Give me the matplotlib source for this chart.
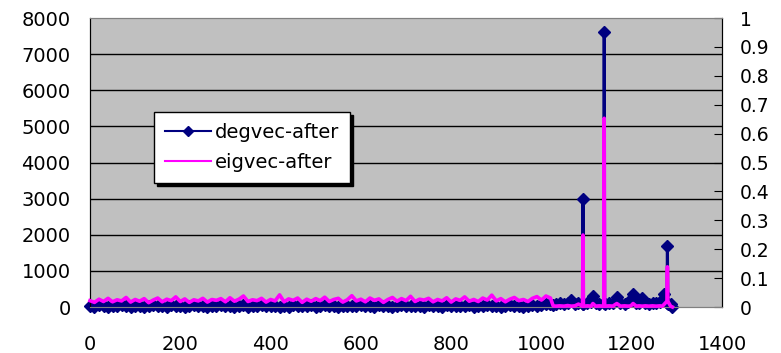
import matplotlib
matplotlib.use("Agg")
import matplotlib.pyplot as plt
import numpy as np

# node index 0..1020 (every 10th node), then the tail read point by point
head_x = list(range(0, 1021, 10))
head_deg = [30, 10, 45, 20, 5, 35, 15, 50, 25, 10,
            40, 20, 5, 30, 55, 15, 25, 10, 45, 20,
            35, 5, 25, 50, 15, 30, 10, 40, 20, 60,
            15, 35, 5, 25, 45, 10, 30, 20, 50, 15,
            25, 40, 10, 35, 5, 55, 20, 30, 15, 45,
            10, 30, 50, 20, 35, 5, 25, 40, 15, 30,
            45, 15, 25, 10, 60, 20, 35, 5, 30, 50,
            20, 40, 15, 30, 10, 45, 25, 35, 5, 55,
            30, 15, 40, 20, 50, 10, 35, 25, 45, 15,
            25, 5, 30, 55, 20, 40, 10, 35, 60, 25,
            45, 80, 70]
head_eig = [0.022, 0.016, 0.027, 0.019, 0.030, 0.018, 0.025, 0.021, 0.033, 0.017,
            0.026, 0.020, 0.029, 0.015, 0.024, 0.031, 0.018, 0.027, 0.022, 0.035,
            0.019, 0.028, 0.016, 0.025, 0.021, 0.030, 0.017, 0.026, 0.023, 0.029,
            0.018, 0.032, 0.020, 0.027, 0.038, 0.019, 0.025, 0.022, 0.030, 0.017,
            0.026, 0.021, 0.042, 0.018, 0.028, 0.023, 0.031, 0.016, 0.027, 0.020,
            0.029, 0.022, 0.034, 0.019, 0.026, 0.030, 0.017, 0.025, 0.039, 0.021,
            0.027, 0.018, 0.031, 0.023, 0.028, 0.016, 0.026, 0.033, 0.020, 0.029,
            0.022, 0.037, 0.019, 0.027, 0.024, 0.030, 0.018, 0.026, 0.021, 0.032,
            0.017, 0.028, 0.023, 0.035, 0.020, 0.026, 0.019, 0.031, 0.024, 0.041,
            0.021, 0.029, 0.018, 0.027, 0.033, 0.022, 0.026, 0.019, 0.030, 0.036,
            0.024, 0.038, 0.031]

tail_x = [1026, 1032, 1040, 1050, 1058, 1066, 1074, 1082, 1091, 1092,
          1093, 1102, 1110, 1114, 1120, 1128, 1138, 1139, 1140, 1150,
          1158, 1167, 1175, 1184, 1192, 1198, 1203, 1210, 1216, 1223,
          1230, 1238, 1246, 1254, 1262, 1268, 1272, 1278, 1279, 1280,
          1286, 1290]
tail_deg = [60, 90, 100, 80, 110, 190, 90, 100, 80, 3000,
            90, 110, 130, 300, 100, 90, 110, 7600, 90, 100,
            120, 280, 100, 90, 130, 170, 360, 110, 120, 250,
            100, 90, 110, 100, 130, 200, 360, 120, 1680, 90,
            70, 0]
tail_eig = [0.004, 0.003, 0.004, 0.003, 0.005, 0.003, 0.004, 0.010, 0.003, 0.249,
            0.003, 0.004, 0.003, 0.012, 0.003, 0.004, 0.003, 0.653, 0.003, 0.004,
            0.003, 0.012, 0.003, 0.004, 0.003, 0.004, 0.012, 0.003, 0.004, 0.003,
            0.004, 0.003, 0.004, 0.003, 0.004, 0.003, 0.010, 0.020, 0.139, 0.020,
            0.003, 0.000]

x_ticks = [0, 200, 400, 600, 800, 1000, 1200, 1400]
left_ticks = [0, 1000, 2000, 3000, 4000, 5000, 6000, 7000, 8000]
right_ticks = [0, 0.1, 0.2, 0.3, 0.4, 0.5, 0.6, 0.7, 0.8, 0.9, 1]
right_labels = ["0", "0.1", "0.2", "0.3", "0.4", "0.5", "0.6", "0.7", "0.8", "0.9", "1"]

x = np.concatenate([head_x, tail_x])
deg = np.concatenate([head_deg, tail_deg])
eig = np.concatenate([head_eig, tail_eig])

fig = plt.figure(figsize=(7.81, 3.53), dpi=100)
ax = fig.add_axes([0.1152, 0.1303, 0.8093, 0.8187])
ax.set_facecolor("#C0C0C0")
ax2 = ax.twinx()

ax.set_xlim(0, 1400)
ax.set_ylim(0, 8000)
ax2.set_ylim(0, 1)

for v in left_ticks[1:-1]:
    ax.axhline(v, color="black", lw=1, zorder=1)

l1, = ax.plot(x, deg, color="#000080", lw=2.2, marker="D", ms=6,
              clip_on=False, zorder=3, label="degvec-after")
l2, = ax2.plot(x, eig, color="#FF00FF", lw=2.6, clip_on=False,
               zorder=3, label="eigvec-after")

ax.set_xticks(x_ticks)
ax.set_yticks(left_ticks)
ax.tick_params(axis="x", length=0, pad=20, labelsize=14)
ax.tick_params(axis="y", length=0, pad=14, labelsize=14)
ax2.set_yticks(right_ticks)
ax2.set_yticklabels(right_labels)
ax2.tick_params(axis="y", direction="in", length=6, pad=13, labelsize=13.5)

for a in (ax, ax2):
    a.spines["top"].set_color("#808080")
    a.spines["bottom"].set_color("#808080")
    a.spines["left"].set_color("black")
    a.spines["right"].set_color("black")

leg = ax2.legend([l1, l2], ["degvec-after", "eigvec-after"],
                 loc="upper left", bbox_to_anchor=(0.101, 0.675),
                 borderaxespad=0, fontsize=14, frameon=True, fancybox=False,
                 edgecolor="black", framealpha=1, handlelength=2.4,
                 handletextpad=0.2, labelspacing=0.6, borderpad=0.55,
                 shadow={"color": "black", "alpha": 1.0})
leg.get_frame().set_linewidth(1)
for h in leg.legend_handles:
    h.set_linewidth(1.5)
    h.set_markersize(5.5)

fig.savefig("out.png", dpi=100)
